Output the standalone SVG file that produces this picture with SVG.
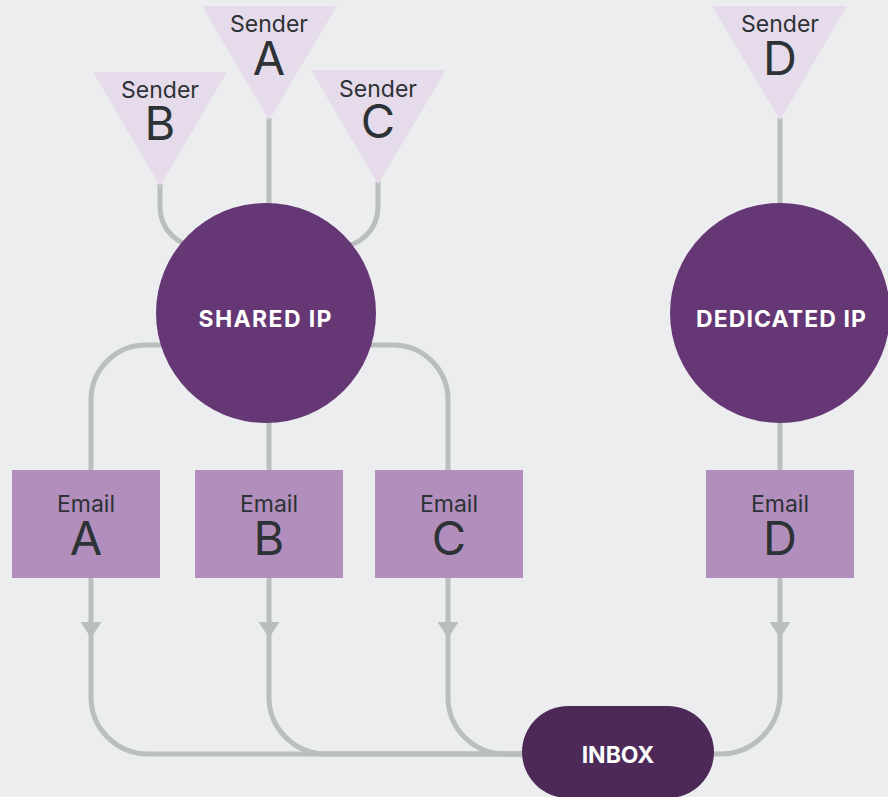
<svg xmlns="http://www.w3.org/2000/svg" width="888" height="797" viewBox="0 0 888 797">
<defs>
<style>
.bg{fill:#ecedef}
.ln{fill:none;stroke:#b9bebf;stroke-width:5}
.ah{fill:#b9bebf}
.tri{fill:#e6dbea}
.box{fill:#b28ebd}
.ip{fill:#653875}
.inbox{fill:#4d2957}
.sm{font-family:Inter,"Open Sans",sans-serif;font-size:23px;fill:#2c3235;text-anchor:middle}
.lg{font-family:Inter,"Open Sans",sans-serif;font-size:47px;fill:#2c3235;text-anchor:middle}
.wt{font-family:Inter,"Open Sans",sans-serif;font-size:23px;font-weight:700;fill:#ffffff;text-anchor:middle}
</style>
</defs>
<rect class="bg" x="0" y="0" width="888" height="797"/>
<g id="connectors">
<path class="ln" d="M269 118 V210"/>
<path class="ln" d="M160 184 V207 A40 40 0 0 0 200 247"/>
<path class="ln" d="M378 182 V207 A40 40 0 0 1 338 247"/>
<path class="ln" d="M780 118 V210"/>
<path class="ln" d="M170 345 H146 A55 55 0 0 0 91 400 V470"/>
<path class="ln" d="M360 345 H393 A55 55 0 0 1 448 400 V470"/>
<path class="ln" d="M269 415 V470"/>
<path class="ln" d="M780 415 V470"/>
<path class="ln" d="M91 578 V697 A57 57 0 0 0 148 754 H540"/>
<path class="ln" d="M269 578 V697 A57 57 0 0 0 326 754 H540"/>
<path class="ln" d="M448 578 V697 A57 57 0 0 0 505 754 H540"/>
<path class="ln" d="M780 578 V694 A60 60 0 0 1 720 754 H700"/>
<polygon class="ah" points="80.5,622 101.5,622 91,638"/>
<polygon class="ah" points="258.5,622 279.5,622 269,638"/>
<polygon class="ah" points="437.5,622 458.5,622 448,638"/>
<polygon class="ah" points="769.5,622 790.5,622 780,638"/>
</g>
<g id="senderA">
<polygon class="tri" points="202,6 337,6 269,120"/>
<text class="sm" x="269" y="32">Sender</text>
<text class="lg" x="269" y="75">A</text>
</g>
<g id="senderB">
<polygon class="tri" points="93,72 227,72 160,186"/>
<text class="sm" x="160" y="98">Sender</text>
<text class="lg" x="160" y="140">B</text>
</g>
<g id="senderC">
<polygon class="tri" points="311,70 446,70 378,184"/>
<text class="sm" x="378" y="97">Sender</text>
<text class="lg" x="378" y="138">C</text>
</g>
<g id="senderD">
<polygon class="tri" points="712,6 847,6 780,120"/>
<text class="sm" x="780" y="32">Sender</text>
<text class="lg" x="780" y="75">D</text>
</g>
<g id="sharedIP">
<circle class="ip" cx="266" cy="313" r="110"/>
<text class="wt" x="265" y="327" textLength="133">SHARED IP</text>
</g>
<g id="dedicatedIP">
<circle class="ip" cx="780" cy="313" r="110"/>
<text class="wt" x="781" y="327" textLength="170">DEDICATED IP</text>
</g>
<g id="emailA">
<rect class="box" x="12" y="470" width="148" height="108"/>
<text class="sm" x="86" y="512">Email</text>
<text class="lg" x="86" y="555">A</text>
</g>
<g id="emailB">
<rect class="box" x="195" y="470" width="148" height="108"/>
<text class="sm" x="269" y="512">Email</text>
<text class="lg" x="269" y="555">B</text>
</g>
<g id="emailC">
<rect class="box" x="375" y="470" width="148" height="108"/>
<text class="sm" x="449" y="512">Email</text>
<text class="lg" x="449" y="555">C</text>
</g>
<g id="emailD">
<rect class="box" x="706" y="470" width="148" height="108"/>
<text class="sm" x="780" y="512">Email</text>
<text class="lg" x="780" y="555">D</text>
</g>
<g id="inbox">
<rect class="inbox" x="522" y="706" width="192" height="92" rx="46" ry="46"/>
<text class="wt" x="618" y="763">INBOX</text>
</g>
</svg>
